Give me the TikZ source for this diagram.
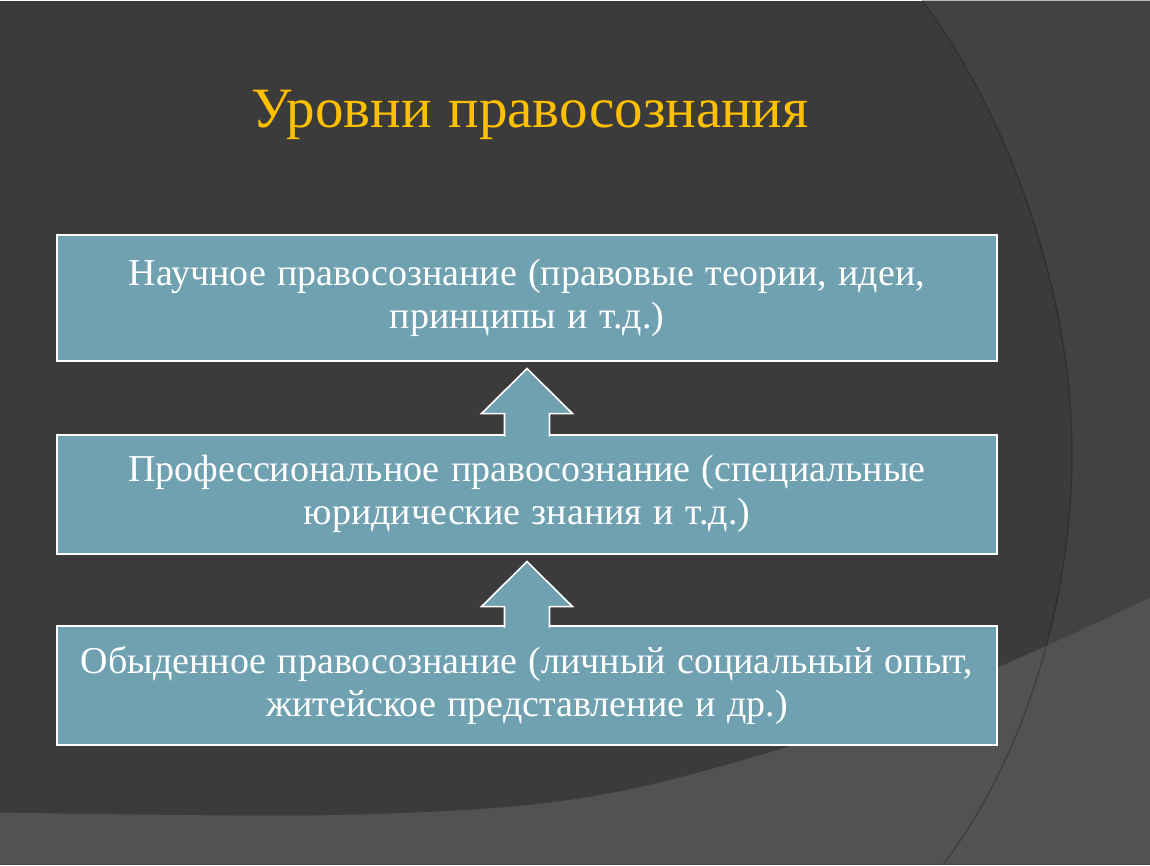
\documentclass[tikz,border=0pt]{standalone}
\usepackage{fontspec}
\setmainfont{Liberation Serif}[WordSpace=1.2]
\usetikzlibrary{calc,positioning}

\definecolor{slidebg}{HTML}{3B3B3B}
\definecolor{slideright}{HTML}{424242}
\definecolor{slidelow}{HTML}{525252}
\definecolor{levelblue}{HTML}{6FA1B0}
\definecolor{titlegold}{HTML}{FFC000}

\tikzset{
  level/.style={draw=white, line width=2pt, fill=levelblue, text=white,
    minimum width=940pt, minimum height=119pt, inner sep=0pt, align=center,
    font=\fontsize{38}{43}\selectfont},
  uparrow/.style={draw=white, line width=1.6pt, fill=levelblue, line join=miter},
}

\begin{document}
\begin{tikzpicture}[x=1pt,y=1pt]
	%background
	\fill[slidebg] (0,0) rectangle (1150,864);
	\fill[slideright] (922,864) .. controls (1005,755) and (1070,580) .. (1072,420)
	  .. controls (1074,260) and (1020,100) .. (943,0) -- (1150,0) -- (1150,864) -- cycle; %right panel
	\fill[slidelow] plot[smooth] coordinates {(0,52) (300,49) (500,57) (633,76) (800,122) (997,197) (1150,267)}
	  -- (1150,0) -- (0,0) -- cycle; %lower band
	\draw[black,line width=1.2pt,opacity=0.25] (922,864) .. controls (1005,755) and (1070,580) .. (1072,420)
	  .. controls (1074,260) and (1020,100) .. (943,0); %panel edge
	\useasboundingbox (0,0) rectangle (1150,864);

	%title
	\node[text=titlegold,font=\fontsize{57}{64}\selectfont] (title) at (530,750) {Уровни правосознания};

	%levels
	\node[level,minimum height=126pt] (science) at (527,567)
	  {Научное правосознание (правовые теории, идеи,\\ принципы и т.д.)};
	\node[level,below=72pt of science] (profession)
	  {Профессиональное правосознание (специальные\\ юридические знания и т.д.)};
	\node[level,below=70pt of profession] (everyday)
	  {Обыденное правосознание (личный социальный опыт,\\ житейское представление и др.)};

	%arrows
	\foreach \lo/\hi in {profession/science, everyday/profession}{
	  \coordinate (tip) at ($(\hi.south)+(0,-7)$);
	  \draw[uparrow] ($(\lo.north)+(-22.5,-3)$) -- ($(tip)+(-22.5,-45)$) -- ($(tip)+(-45.5,-45)$)
	    -- (tip) -- ($(tip)+(45.5,-45)$) -- ($(tip)+(22.5,-45)$) -- ($(\lo.north)+(22.5,-3)$);
	}
\end{tikzpicture}
\end{document}
